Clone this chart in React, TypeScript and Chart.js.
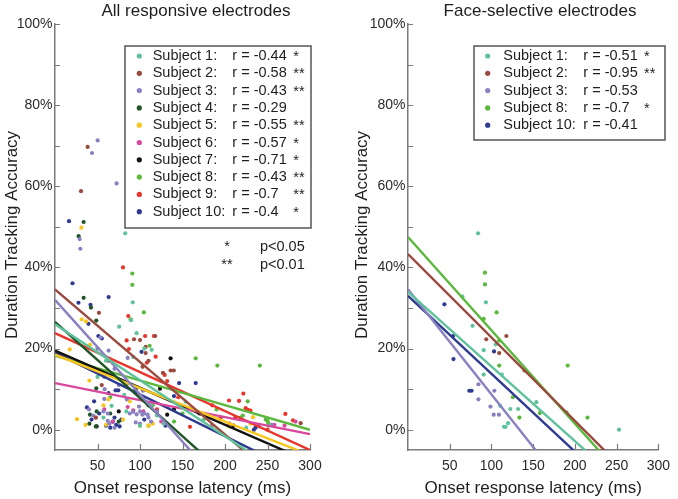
import React, { useEffect, useRef } from 'react';
import { Chart, registerables } from 'chart.js';
Chart.register(...registerables);

type Pt = [number, number];
const FONT = '"Liberation Sans", Arial, Helvetica, sans-serif';
const AXIS = '#7a7a7a';
const TXT = '#1e1e1e';

// ---------- data ----------
const subjectNames = ['Subject 1:', 'Subject 2:', 'Subject 3:', 'Subject 4:', 'Subject 5:', 'Subject 6:', 'Subject 7:', 'Subject 8:', 'Subject 9:', 'Subject 10:'];
const subjectColors = ['#5fc29a', '#9a4a3e', '#8a80c2', '#1f5528', '#f7c51e', '#d8479c', '#111111', '#5ab83c', '#e8352b', '#2d3a8f'];

const allR = ['r = -0.44', 'r = -0.58', 'r = -0.43', 'r = -0.29', 'r = -0.55', 'r = -0.57', 'r = -0.71', 'r = -0.43', 'r = -0.7', 'r = -0.4'];
const allStars = ['*', '**', '**', '', '**', '*', '*', '**', '**', '*'];
const allIntercepts = [26, 34.6, 32, 26.6, 18.5, 11.5, 19.5, 18.2, 23.8, 19];
const allSlopes = [-0.138, -0.179, -0.233, -0.188, -0.0825, -0.042, -0.0914, -0.0607, -0.096, -0.103];

const faceIdx = [0, 1, 2, 7, 9];
const faceR = ['r = -0.51', 'r = -0.95', 'r = -0.53', 'r = -0.7', 'r = -0.41'];
const faceStars = ['*', '**', '', '*', ''];
const faceIntercepts = [34, 43.3, 34.6, 47.5, 33];
const faceSlopes = [-0.184, -0.2055, -0.259, -0.23, -0.192];

const yTicks = [0, 10, 20, 30, 40, 50, 60, 70, 80, 90, 100];
const xTicks = [50, 100, 150, 200, 250, 300];

const allS1: Pt[] = [[82.7, 48.4], [91.5, 31.4], [75.5, 25.4], [89.4, 27], [96, 23.8], [113.7, 19.7], [92, 17.9], [66.6, 5.9], [81.5, 8.6], [50, 13], [84, 4.5], [113, 6], [120, 3.5], [128, 1.5], [153.7, 6.9], [175, 2.5], [140, 10], [105, 20], [60, 17], [225, 0.5], [57, 3], [100, 1], [252, 1]];
const allS2: Pt[] = [[38.4, 69.7], [30.6, 58.8], [51.7, 28.8], [93, 22.3], [100, 22.1], [106.6, 20.4], [106.6, 18.9], [110, 17], [117.9, 23.1], [127, 14], [136, 14.6], [139.7, 14.6], [63, 17], [289, 1.6], [55, 11], [48, 3], [103, 15.5]];
const allS3: Pt[] = [[50.2, 71.3], [43.5, 68.2], [72.5, 60.7], [29, 47], [29.8, 44.6], [53.3, 22.7], [85.5, 17.7], [58, 13], [58.4, 10], [58, 7.6], [84.4, 11.2], [103.5, 9.6], [84.4, 7.5], [98.8, 5.7], [102.7, 3.7], [109, 3.7], [40, 5], [45, 3.5], [57, 4.5], [62, 4], [62, 2.2], [64, 1.5], [70, 0.5], [88, 4], [92, 4.4], [96, 3.8], [100, 4.5], [105, 4], [110, 3], [113, 2], [120, 4.5], [95, 1.8], [100, 1.5], [255, 1.2], [240, 0.8], [50, 20], [63, 19.5], [70, 15], [75, 11]];
const allS4: Pt[] = [[33.7, 51.2], [27.8, 47.7], [33.7, 32.5], [42.3, 30.1], [48.6, 26.9], [48.6, 10.2], [41.2, 3.7], [40.5, 1.5], [49, 4.5], [48, 0.8], [65, 4], [75, 2], [110, 6], [95, 10]];
const allS5: Pt[] = [[31, 49.8], [31.4, 27.2], [36.5, 26.7], [17.3, 19.8], [41.2, 20.9], [40.4, 12.1], [25.9, 2.6], [36, 1.2], [57, 6], [60, 1.2], [80, 2.5], [100, 1], [110, 1], [115, 1.5], [88, 7], [233, 3.1], [230, 1.5], [205, 0.8], [63, 7.5]];
const allS6: Pt[] = [[85.5, 5.6], [48, 3], [58, 5], [92, 4.8], [104, 4.5], [184, 0.9], [283, 2], [258, 1.2], [270, 1], [68, 2], [125, 2]];
const allS7: Pt[] = [[136, 17.6], [123.5, 10.1], [132, 3.7], [49, 0.8], [75, 4.5], [170, 4], [210, 1], [140, 5]];
const allS8: Pt[] = [[91, 38.5], [91, 35.7], [104.5, 28.9], [89, 27.2], [111.3, 20.7], [165.5, 17.6], [191, 15.8], [241, 15.8], [226.7, 7], [218, 3], [221, 3.5], [248, 2.5], [251, 1.6], [250, 2.2], [65, 8], [115, 6], [140, 2], [150, 4], [190, 5], [110, 1]];
const allS9: Pt[] = [[80, 40], [86.2, 28], [84.3, 22], [87, 19.9], [106, 23.1], [116.4, 23.1], [118.4, 18], [108, 16.5], [129, 13.5], [132, 12], [158.8, 0.7], [204.7, 7.2], [216.5, 7.1], [221.6, 8.9], [224.3, 5.3], [227, 4.9], [230, 4.7], [271, 3.9], [212, 2.9], [205, 1.5], [195, 3], [145, 8], [120, 5], [185, 6], [250, 0], [280, 2.3]];
const allS10: Pt[] = [[16.5, 51.4], [20.6, 36.1], [27.6, 31.3], [41.8, 30.8], [63.1, 32.7], [39.4, 26.1], [51, 23.1], [101.8, 19.2], [146, 11.5], [165.5, 11.5], [140, 8.3], [71.3, 9.7], [74.5, 9.7], [37.6, 5.5], [43, 2.5], [52, 4], [60, 1], [65, 0.5], [68, 2], [70, 3], [72, 1.2], [76, 0.8], [78, 2.5], [46, 7], [105, 2.5], [130, 1], [234, 0], [236, 0.5], [55, 22.5], [63, 9]];
const allPoints = [allS1, allS2, allS3, allS4, allS5, allS6, allS7, allS8, allS9, allS10];

const faceS1: Pt[] = [[84, 48.4], [93.4, 31.4], [65.3, 32.8], [77.4, 25.6], [90.7, 19.6], [90.7, 13.6], [112.5, 13.6], [110.5, 5.9], [122.6, 5.1], [132, 5.1], [153.8, 6.8], [120, 1.6], [115, 0.7], [117, 0.7], [252.9, 0], [105, 21]];
const faceS2: Pt[] = [[93.8, 22.3], [117.9, 23.1], [109.3, 18.9], [139.7, 14.6]];
const faceS3: Pt[] = [[84.4, 11.2], [103.5, 9.6], [84.4, 7.5], [98.8, 5.7], [102.7, 3.7], [109, 3.7]];
const faceS8: Pt[] = [[92.2, 38.7], [92.2, 35.8], [106.2, 28.9], [90.7, 27.3], [109.3, 22], [109.3, 15.8], [125.7, 8], [133.5, 3], [158, 4.1], [191.4, 15.8], [215.1, 3], [190, 4.2]];
const faceS10: Pt[] = [[43.6, 30.9], [54.5, 17.4], [73.5, 9.6], [76.2, 9.6], [103.1, 19.3], [54, 23.1]];
const facePoints = [faceS1, faceS2, faceS3, faceS8, faceS10];

// ---------- panel configs (layout) ----------
interface Panel {
  key: string; title: string; titleX: number;
  padLeft: number; yWidth: number; padRight: number;
  yTitleX: number;
  legend: { x0: number; y0: number; x1: number; y1: number; markerX: number; textX: number; rX: number; starX: number; rowY: number };
  rows: { name: string; color: string; r: string; star: string }[];
  pNote: boolean;
  points: Pt[][]; colors: string[]; intercepts: number[]; slopes: number[];
}

const panels: Panel[] = [
  {
    key: 'all', title: 'All responsive electrodes', titleX: 196,
    padLeft: 0, yWidth: 55, padRight: 678 - 310, yTitleX: 16.5,
    legend: { x0: 125, y0: 46, x1: 311, y1: 228, markerX: 139.3, textX: 152.7, rX: 232.3, starX: 293.3, rowY: 56 },
    rows: subjectNames.map((n, i) => ({ name: n, color: subjectColors[i], r: allR[i], star: allStars[i] })),
    pNote: true,
    points: allPoints, colors: subjectColors, intercepts: allIntercepts, slopes: allSlopes,
  },
  {
    key: 'face', title: 'Face-selective electrodes', titleX: 540,
    padLeft: 340, yWidth: 68, padRight: 678 - 665, yTitleX: 366.5,
    legend: { x0: 474, y0: 46, x1: 665, y1: 140, markerX: 487.7, textX: 503.3, rX: 583.3, starX: 644, rowY: 56 },
    rows: faceIdx.map((si, i) => ({ name: subjectNames[si], color: subjectColors[si], r: faceR[i], star: faceStars[i] })),
    pNote: false,
    points: facePoints, colors: faceIdx.map((i) => subjectColors[i]), intercepts: faceIntercepts, slopes: faceSlopes,
  },
];

function decoPlugin(p: Panel) {
  return {
    id: 'deco_' + p.key,
    afterDraw(chart: any) {
      const ctx: CanvasRenderingContext2D = chart.ctx;
      const a = chart.chartArea;
      const xs = chart.scales.x;
      const ys = chart.scales.y;
      ctx.save();
      // inward ticks
      ctx.strokeStyle = AXIS;
      ctx.lineWidth = 1.2;
      ctx.beginPath();
      for (const v of yTicks) {
        const py = Math.round(ys.getPixelForValue(v)) + 0.5;
        ctx.moveTo(a.left, py);
        ctx.lineTo(a.left + 5, py);
      }
      for (const v of xTicks) {
        const px = Math.round(xs.getPixelForValue(v)) + 0.5;
        ctx.moveTo(px, a.bottom);
        ctx.lineTo(px, a.bottom - 6);
      }
      ctx.stroke();

      ctx.fillStyle = TXT;
      // panel title
      ctx.font = `17px ${FONT}`;
      ctx.textAlign = 'center';
      ctx.textBaseline = 'alphabetic';
      ctx.fillText(p.title, p.titleX, 16);
      // x title
      ctx.fillText('Onset response latency (ms)', (a.left + a.right) / 2, 492.5);
      // y title
      ctx.save();
      ctx.translate(p.yTitleX, (a.top + a.bottom) / 2 - 2);
      ctx.rotate(-Math.PI / 2);
      ctx.fillText('Duration Tracking Accuracy', 0, 0);
      ctx.restore();

      // legend
      const L = p.legend;
      ctx.fillStyle = '#ffffff';
      ctx.fillRect(L.x0, L.y0, L.x1 - L.x0, L.y1 - L.y0);
      ctx.strokeStyle = '#555555';
      ctx.lineWidth = 1.5;
      ctx.strokeRect(L.x0, L.y0, L.x1 - L.x0, L.y1 - L.y0);
      ctx.font = `14.5px ${FONT}`;
      ctx.textAlign = 'left';
      ctx.textBaseline = 'middle';
      p.rows.forEach((row, i) => {
        const y = L.rowY + i * 17.3;
        ctx.fillStyle = row.color;
        ctx.beginPath();
        ctx.arc(L.markerX, y, 2.6, 0, Math.PI * 2);
        ctx.fill();
        ctx.fillStyle = TXT;
        ctx.fillText(row.name, L.textX, y);
        const w = ctx.measureText(row.name).width;
        const rx = Math.max(L.rX, L.textX + w + 3);
        ctx.fillText(row.r, rx, y);
        if (row.star) ctx.fillText(row.star, L.starX, y + 1);
      });

      if (p.pNote) {
        ctx.textAlign = 'center';
        ctx.fillText('*', 227, 247);
        ctx.fillText('**', 227, 265);
        ctx.textAlign = 'left';
        ctx.fillText('p<0.05', 260, 247);
        ctx.fillText('p<0.01', 260, 265);
      }
      ctx.restore();
    },
  };
}

function PanelChart({ p }: { p: Panel }) {
  const ref = useRef<HTMLCanvasElement>(null);
  useEffect(() => {
    if (!ref.current) return;
    const lineSets = p.intercepts.map((b, i) => ({
      type: 'line' as const,
      data: [{ x: 0, y: b }, { x: 300, y: b + 300 * p.slopes[i] }],
      borderColor: p.colors[i],
      borderWidth: 2.4,
      pointRadius: 0,
      fill: false,
      order: 0,
    }));
    const ptSets = p.points.map((pts, i) => ({
      type: 'scatter' as const,
      data: pts.map(([x, y]) => ({ x, y })),
      backgroundColor: p.colors[i],
      borderWidth: 0,
      pointRadius: 2.1,
      order: 1,
    }));
    const chart = new Chart(ref.current, {
      type: 'scatter',
      data: { datasets: [...lineSets, ...ptSets] as any },
      options: {
        animation: false,
        responsive: false,
        devicePixelRatio: 1,
        events: [],
        layout: { padding: { left: p.padLeft, right: p.padRight, top: 24, bottom: 0 } },
        plugins: { legend: { display: false }, tooltip: { enabled: false }, title: { display: false } },
        scales: {
          x: {
            type: 'linear', min: 0, max: 300,
            grid: { display: false, drawTicks: false },
            border: { display: true, color: AXIS, width: 1.5 },
            ticks: {
              stepSize: 50, autoSkip: false, maxRotation: 0, padding: 8,
              color: '#2a2a2a', font: { family: FONT, size: 14 },
              callback: (v: any) => (v === 0 ? '' : String(v)),
            },
            afterFit: (s: any) => { s.height = 49; },
          },
          y: {
            type: 'linear', min: -5, max: 100,
            grid: { display: false, drawTicks: false },
            border: { display: true, color: AXIS, width: 1.5 },
            ticks: {
              stepSize: 10, autoSkip: false, padding: 2.5,
              color: '#2a2a2a', font: { family: FONT, size: 14 },
              callback: (v: any) => (v >= 0 && v % 20 === 0 ? v + '%' : ''),
            },
            afterFit: (s: any) => { s.width = p.yWidth; },
          },
        },
      },
      plugins: [decoPlugin(p)],
    });
    return () => chart.destroy();
  }, [p]);
  return <canvas ref={ref} width={678} height={499} style={{ position: 'absolute', left: 0, top: 0, width: 678, height: 499 }} />;
}

export default function App() {
  return (
    <div style={{ position: 'absolute', left: 0, top: 0, width: 678, height: 499, background: '#fff' }}>
      {panels.map((p) => <PanelChart key={p.key} p={p} />)}
    </div>
  );
}
